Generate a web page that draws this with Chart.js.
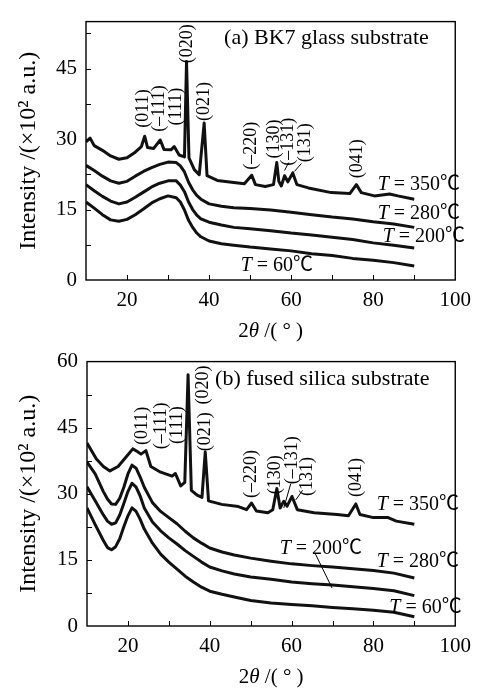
<!DOCTYPE html>
<html>
<head>
<meta charset="utf-8">
<script src="https://cdn.jsdelivr.net/npm/chart.js@4.4.1/dist/chart.umd.min.js"></script>
<style>
body { margin: 0; background: #fff; }
#wrap { position: relative; width: 479px; height: 689px; }
canvas { position: absolute; left: 0; }
#chartA { top: 0; }
#chartB { top: 340px; }
</style>
</head>
<body>
<div id="wrap">
<canvas id="chartA" width="479" height="345"></canvas>
<canvas id="chartB" width="479" height="349"></canvas>
</div>
<script>
// 2theta in degrees, intensity in 10^2 a.u.
var xTicks = [20, 40, 60, 80, 100];
var yTicksA = [0, 15, 30, 45];
var yTicksB = [0, 15, 30, 45, 60];

// (a) BK7 glass substrate
var anglesA = [10, 12, 14, 16, 18, 20, 22, 24, 26, 28, 30, 32, 33, 34, 35, 36, 37, 38, 40, 43, 46, 50, 55, 60, 65, 70, 75, 80, 85, 90];
var bk7_280 = [24.4, 23.3, 22.1, 21.1, 20.6, 21.0, 22.1, 23.1, 23.9, 24.6, 25.1, 25.0, 24.3, 23.0, 20.8, 19.2, 18.0, 17.2, 16.2, 15.7, 15.4, 15.2, 14.9, 14.4, 13.9, 13.4, 13.0, 12.4, 11.9, 11.2];
var bk7_200 = [20.3, 19.0, 17.8, 16.8, 16.2, 16.6, 17.6, 18.7, 19.8, 20.6, 21.1, 21.1, 20.2, 18.8, 16.6, 15.0, 13.8, 13.0, 12.3, 11.7, 11.2, 10.9, 10.5, 10.0, 9.6, 9.1, 8.6, 7.9, 7.4, 6.8];
var bk7_60 = [16.6, 15.3, 13.9, 12.8, 12.5, 12.9, 13.9, 15.1, 16.4, 17.3, 17.9, 17.5, 16.6, 14.9, 12.7, 11.2, 10.0, 9.2, 8.3, 7.7, 7.4, 7.0, 6.6, 6.2, 5.6, 5.2, 4.6, 4.2, 3.7, 3.0];
var anglesA350 = [10, 11, 12, 14, 16, 18, 20, 22, 23.5, 24.3, 25, 26.5, 28.1, 29, 30.7, 31.5, 32.7, 34, 34.5, 35.1, 36.4, 37.6, 38.8, 39.5, 42, 45.5, 48.6, 50.4, 51.3, 53.7, 55.7, 56.5, 57, 57.6, 58.4, 59.2, 60.4, 61.4, 64.2, 69.8, 74.3, 75.9, 77.1, 80.3, 84, 86, 90];
var bk7_350 = [29.4, 30.2, 28.6, 27.6, 26.4, 25.7, 26.0, 27.2, 28.4, 30.6, 28.2, 28.0, 29.8, 27.8, 27.7, 28.4, 26.6, 26.2, 46.5, 26.0, 23.5, 22.4, 33.4, 22.2, 21.2, 20.8, 20.5, 22.3, 20.3, 19.9, 20.3, 25.0, 21.0, 20.0, 22.2, 20.9, 22.8, 20.3, 19.6, 18.6, 18.4, 20.3, 18.6, 17.9, 18.3, 17.9, 17.2];

// (b) fused silica substrate
var anglesB = [10, 12, 14, 15, 16, 17, 18, 19, 20, 21, 22, 23, 24, 26, 28, 30, 32, 34, 36, 38, 40, 43, 46, 50, 55, 60, 65, 70, 75, 80, 85, 90];
var fs_280 = [37.2, 34.5, 30.5, 28.8, 27.7, 27.6, 29.0, 31.5, 34.5, 36.5, 35.8, 33.8, 31.5, 28.0, 26.0, 24.6, 23.2, 21.5, 20.0, 18.8, 17.7, 16.8, 16.1, 15.4, 14.7, 14.1, 13.7, 13.4, 13.0, 12.6, 12.0, 10.9];
var fs_200 = [31.6, 28.4, 25.2, 23.8, 23.1, 23.4, 25.2, 27.8, 30.5, 32.4, 31.5, 29.5, 26.8, 23.6, 21.6, 20.0, 18.6, 17.1, 15.8, 14.5, 13.4, 12.5, 11.8, 11.1, 10.6, 10.0, 9.6, 9.3, 8.9, 8.5, 8.0, 6.9];
var fs_60 = [26.8, 23.0, 19.4, 17.8, 17.3, 18.0, 19.8, 22.5, 25.0, 26.8, 26.0, 24.2, 22.0, 18.8, 16.3, 14.5, 12.9, 11.3, 10.0, 8.8, 7.9, 7.2, 6.6, 5.8, 5.2, 4.9, 4.6, 4.2, 3.9, 3.6, 3.1, 2.1];
var anglesB350 = [10, 12.3, 14, 15.6, 17.6, 19.6, 21.2, 22.3, 23.2, 24.4, 25.6, 28, 30.8, 31.6, 32.9, 33.9, 34.7, 35.5, 36.9, 38.1, 38.9, 39.7, 42.9, 47, 49, 50.2, 51.4, 54.2, 55.4, 56.4, 57.2, 58.1, 58.9, 60.1, 61.4, 65.5, 71.1, 73.9, 75.7, 76.7, 80, 83.6, 85.6, 90];
var fs_350 = [41.5, 37.9, 36.2, 35.2, 36.2, 38.4, 40.2, 39.6, 39.0, 39.8, 36.2, 34.9, 34.0, 34.6, 31.8, 32.6, 57.0, 30.8, 29.7, 29.2, 39.5, 28.4, 27.6, 27.1, 26.4, 27.9, 26.1, 25.7, 26.4, 31.2, 26.8, 28.3, 27.2, 29.4, 26.4, 25.7, 25.3, 25.0, 27.7, 25.3, 24.6, 24.6, 23.8, 23.1];

// annotations: [text, 2theta, intensity]
var peakLabelsA = [['(011)', 24.0, 36.5], ['(–111)', 27.9, 36.5], ['(111)', 32.0, 36.9], ['(020)', 34.7, 50.3], ['(021)', 38.8, 38.0],
  ['(–220)', 50.4, 28.6], ['(130)', 56.0, 30.0], ['(–131)', 59.4, 29.4], ['(131)', 63.5, 29.2], ['(041)', 76.1, 25.8]];
var peakLabelsB = [['(011)', 23.5, 45.4], ['(–111)', 28.1, 45.4], ['(111)', 32.0, 45.6], ['(020)', 38.5, 54.7], ['(021)', 39.0, 44.1],
  ['(–220)', 50.1, 34.5], ['(130)', 56.1, 34.3], ['(–131)', 60.2, 37.6], ['(131)', 63.9, 33.9], ['(041)', 75.7, 33.7]];
var tempLabelsA = [['350', 81.1, 20.3], ['280', 81.1, 14.2], ['200', 82.3, 9.1], ['60', 47.7, 3.0]];
var tempLabelsB = [['350', 80.8, 27.5], ['280', 80.8, 14.6], ['200', 57.1, 17.5], ['60', 83.9, 4.2]];
var leadersA = [[59.4, 25.0, 58.4, 23.3], [62.5, 24.8, 60.8, 23.1]];
var leadersB = [[59.8, 32.3, 58.1, 26.8], [62.7, 30.8, 61.0, 28.6], [65.8, 16.4, 69.9, 8.6]];

var FONT = "'Liberation Serif', 'Times New Roman', 'Noto Sans CJK SC', serif";

function pieces(ctx, parts, x, y, align) {
    var w = 0;
    parts.forEach(function(p) { ctx.font = p[1]; w += ctx.measureText(p[0]).width; });
    var cx = align === 'center' ? x - w / 2 : x;
    ctx.textAlign = 'left';
    ctx.textBaseline = 'middle';
    parts.forEach(function(p) {
        ctx.font = p[1];
        ctx.fillText(p[0], cx, y);
        cx += ctx.measureText(p[0]).width;
    });
}

var decor = {
    id: 'decor',
    afterDraw: function(chart, args, o) {
        var ctx = chart.ctx, a = chart.chartArea;
        var x = chart.scales.x, y = chart.scales.y;
        ctx.save();
        ctx.strokeStyle = '#000';
        ctx.fillStyle = '#000';
        ctx.lineWidth = 1.4;
        ctx.strokeRect(a.left, a.top, a.right - a.left, a.bottom - a.top);

        // inward ticks, minor every 10 deg / 7.5 units
        ctx.lineWidth = 1;
        ctx.beginPath();
        for (var v = 20; v < 100; v += 10) {
            var px = Math.round(x.getPixelForValue(v)) + 0.5;
            ctx.moveTo(px, a.bottom);
            ctx.lineTo(px, a.bottom - 5);
        }
        for (var w = 7.5; w < y.max; w += 7.5) {
            var py = Math.round(y.getPixelForValue(w)) + 0.5;
            ctx.moveTo(a.left, py);
            ctx.lineTo(a.left + 5, py);
        }
        o.leaders.forEach(function(l) {
            ctx.moveTo(x.getPixelForValue(l[0]), y.getPixelForValue(l[1]));
            ctx.lineTo(x.getPixelForValue(l[2]), y.getPixelForValue(l[3]));
        });
        ctx.stroke();

        // x title
        pieces(ctx, [['2', '21px ' + FONT], ['θ', 'italic 21px ' + FONT], [' /( ° )', '21px ' + FONT]],
            (a.left + a.right) / 2, a.bottom + 51, 'center');

        // panel title
        ctx.font = '22px ' + FONT;
        ctx.textAlign = 'center';
        ctx.textBaseline = 'middle';
        ctx.fillText(o.title, x.getPixelForValue(o.titleAt[0]), y.getPixelForValue(o.titleAt[1]));

        // hkl labels, rotated
        ctx.font = '18px ' + FONT;
        o.peaks.forEach(function(p) {
            ctx.save();
            ctx.translate(x.getPixelForValue(p[1]), y.getPixelForValue(p[2]));
            ctx.rotate(-Math.PI / 2);
            ctx.fillText(p[0], 0, 0);
            ctx.restore();
        });

        o.temps.forEach(function(t) {
            pieces(ctx, [['T', 'italic 20px ' + FONT], [' = ' + t[0] + '℃', '20px ' + FONT]],
                x.getPixelForValue(t[1]), y.getPixelForValue(t[2]), 'left');
        });
        ctx.restore();
    }
};

function series(xs, ys) {
    return {
        data: xs.map(function(a, i) { return { x: a, y: ys[i] }; }),
        borderColor: '#111',
        borderWidth: 3,
        borderJoinStyle: 'round',
        pointRadius: 0,
        tension: 0,
        fill: false
    };
}

function makeChart(id, cfg) {
    return new Chart(document.getElementById(id), {
        type: 'line',
        data: { datasets: cfg.sets },
        options: {
            responsive: false,
            animation: false,
            events: [],
            layout: { padding: cfg.pad },
            plugins: { legend: { display: false }, tooltip: { enabled: false }, decor: cfg.decor },
            scales: {
                x: {
                    type: 'linear', min: 10, max: 100,
                    afterBuildTicks: function(sc) { sc.ticks = xTicks.map(function(v) { return { value: v }; }); },
                    afterFit: function(sc) { sc.height = cfg.xH; },
                    grid: { display: false, drawTicks: false },
                    border: { display: false },
                    ticks: { font: { family: FONT, size: 21 }, color: '#000', padding: 8, maxRotation: 0, autoSkip: false }
                },
                y: {
                    type: 'linear', min: 0, max: cfg.yMax,
                    afterBuildTicks: function(sc) { sc.ticks = cfg.yTicks.map(function(v) { return { value: v }; }); },
                    afterFit: function(sc) { sc.width = cfg.yW; },
                    grid: { display: false, drawTicks: false },
                    border: { display: false },
                    ticks: { font: { family: FONT, size: 21 }, color: '#000', padding: 9, autoSkip: false },
                    title: {
                        display: true, text: 'Intensity /(×10² a.u.)', color: '#000',
                        font: { family: FONT, size: 24 }, padding: { top: 14, bottom: 0 }
                    }
                }
            }
        },
        plugins: [decor]
    });
}

makeChart('chartA', {
    sets: [series(anglesA350, bk7_350), series(anglesA, bk7_280), series(anglesA, bk7_200), series(anglesA, bk7_60)],
    pad: { top: 9, right: 21, left: 0, bottom: 0 },
    xH: 65, yW: 86, yMax: 55, yTicks: yTicksA,
    decor: { title: '(a) BK7 glass substrate', titleAt: [68.6, 51.5], peaks: peakLabelsA, temps: tempLabelsA, leaders: leadersA }
});

makeChart('chartB', {
    sets: [series(anglesB350, fs_350), series(anglesB, fs_280), series(anglesB, fs_200), series(anglesB, fs_60)],
    pad: { top: 15, right: 20, left: 0, bottom: 0 },
    xH: 63, yW: 87, yMax: 60, yTicks: yTicksB,
    decor: { title: '(b) fused silica substrate', titleAt: [67.5, 56.0], peaks: peakLabelsB, temps: tempLabelsB, leaders: leadersB }
});
</script>
</body>
</html>
